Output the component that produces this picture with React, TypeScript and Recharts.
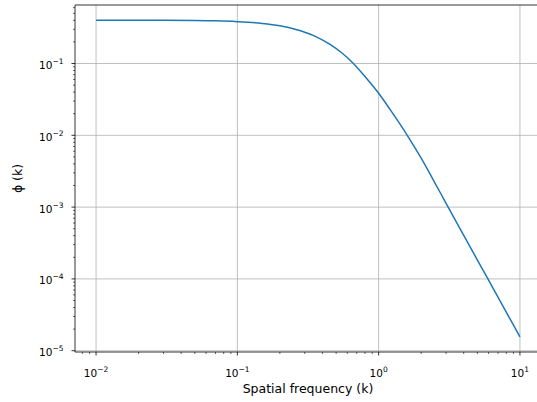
import React from 'react';
import { LineChart, Line, XAxis, YAxis, ReferenceLine } from 'recharts';

// Data
const kValues = [0.01, 0.02, 0.03, 0.05, 0.07, 0.1, 0.15, 0.2, 0.26, 0.35, 0.45, 0.55, 0.66, 0.8, 1.0, 1.2, 1.57, 2.0, 2.5, 3.0, 4.0, 5.0, 6.0, 8.0, 10];
const phiValues = [0.4, 0.4, 0.399, 0.397, 0.393, 0.383, 0.362, 0.335, 0.298, 0.243, 0.186, 0.14, 0.101, 0.066, 0.0385, 0.0232, 0.0105, 0.0048, 0.00218, 0.00113, 0.000405, 0.000183, 0.000096, 0.0000345, 0.0000156];

const xMajorTicks = [0.01, 0.1, 1, 10];
const yMajorTicks = [1e-5, 1e-4, 1e-3, 1e-2, 1e-1];
const minorMultipliers = [2, 3, 4, 5, 6, 7, 8, 9];

const xDomain: [number, number] = [Math.pow(10, -2.149), Math.pow(10, 1.149)];
const yDomain: [number, number] = [Math.pow(10, -5.018), Math.pow(10, -0.185)];

const data = kValues.map((k, i) => ({ k, phi: phiValues[i] }));

const minorsFor = (majors: number[], dom: [number, number]) => {
  const out: number[] = [];
  [majors[0] / 10, ...majors].forEach((d) => {
    minorMultipliers.forEach((m) => {
      const v = d * m;
      if (v >= dom[0] && v <= dom[1]) out.push(v);
    });
  });
  return out;
};

const xTicks = [...xMajorTicks, ...minorsFor(xMajorTicks, xDomain)].sort((a, b) => a - b);
const yTicks = [...yMajorTicks, ...minorsFor(yMajorTicks, yDomain)].sort((a, b) => a - b);

const FONT = '"DejaVu Sans", sans-serif';

const isMajor = (v: number) => Math.abs(Math.log10(v) - Math.round(Math.log10(v))) < 1e-6;
const expText = (v: number) => {
  const e = Math.round(Math.log10(v));
  return e < 0 ? '\u2212' + Math.abs(e) : String(e);
};

const XTick = (props: any) => {
  const { x, y, payload } = props;
  const v = payload.value;
  const major = isMajor(v);
  return (
    <g>
      <line x1={x} x2={x} y1={y} y2={y + (major ? 3.5 : 2)} stroke="#000" strokeWidth={major ? 0.8 : 0.6} />
      {major && (
        <text x={x} y={y + 25} textAnchor="middle" fontFamily={FONT} fontSize={10.5} fill="#000">
          <tspan>10</tspan>
          <tspan dy={-5} fontSize={7.5}>{expText(v)}</tspan>
        </text>
      )}
    </g>
  );
};

const YTick = (props: any) => {
  const { x, y, payload } = props;
  const v = payload.value;
  const major = isMajor(v);
  return (
    <g>
      <line x1={x - (major ? 3.5 : 2)} x2={x} y1={y} y2={y} stroke="#000" strokeWidth={major ? 0.8 : 0.6} />
      {major && (
        <text x={x - 11.5} y={y + 5.5} textAnchor="end" fontFamily={FONT} fontSize={10.5} fill="#000">
          <tspan>10</tspan>
          <tspan dy={-5} fontSize={7.5}>{expText(v)}</tspan>
        </text>
      )}
    </g>
  );
};

const XLabel = (p: any) => {
  const vb = p.viewBox || { x: 75, y: 352, width: 466, height: 50 };
  return (
    <text x={vb.x + vb.width / 2} y={vb.y + 41} textAnchor="middle" fontFamily={FONT} fontSize={12.5} fill="#000">
      Spatial frequency (k)
    </text>
  );
};

const YLabel = (p: any) => {
  const vb = p.viewBox || { x: 0, y: 5, width: 75, height: 347 };
  const cx = vb.x + 22;
  const cy = vb.y + vb.height / 2;
  return (
    <text x={cx} y={cy} transform={`rotate(-90, ${cx}, ${cy})`} textAnchor="middle" fontFamily={FONT} fontSize={12.5} fill="#000">
      ϕ (k)
    </text>
  );
};

export default function App() {
  return (
    <div style={{ position: 'absolute', left: 0, top: 0, width: 537, height: 402, overflow: 'hidden', background: '#fff' }}>
      <LineChart width={545} height={402} data={data} margin={{ top: 5, right: 4, bottom: 0, left: 0 }}>
        <XAxis
          dataKey="k"
          type="number"
          scale="log"
          domain={xDomain}
          allowDataOverflow
          ticks={xTicks}
          interval={0}
          tickSize={0}
          tickMargin={0}
          tickLine={false}
          tick={<XTick />}
          height={50}
          axisLine={{ stroke: '#000', strokeWidth: 0.8 }}
          label={XLabel}
        />
        <YAxis
          type="number"
          scale="log"
          domain={yDomain}
          allowDataOverflow
          ticks={yTicks}
          interval={0}
          tickSize={0}
          tickMargin={0}
          tickLine={false}
          tick={<YTick />}
          width={75}
          axisLine={{ stroke: '#000', strokeWidth: 0.8 }}
          label={YLabel}
        />
        {xMajorTicks.map((v) => (
          <ReferenceLine key={'gx' + v} x={v} stroke="#b0b0b0" strokeWidth={0.8} />
        ))}
        {yMajorTicks.map((v) => (
          <ReferenceLine key={'gy' + v} y={v} stroke="#b0b0b0" strokeWidth={0.8} />
        ))}
        <ReferenceLine y={yDomain[1]} stroke="#000" strokeWidth={0.8} ifOverflow="visible" />
        <Line dataKey="phi" type="monotone" stroke="#1f77b4" strokeWidth={1.5} dot={false} isAnimationActive={false} />
      </LineChart>
    </div>
  );
}
